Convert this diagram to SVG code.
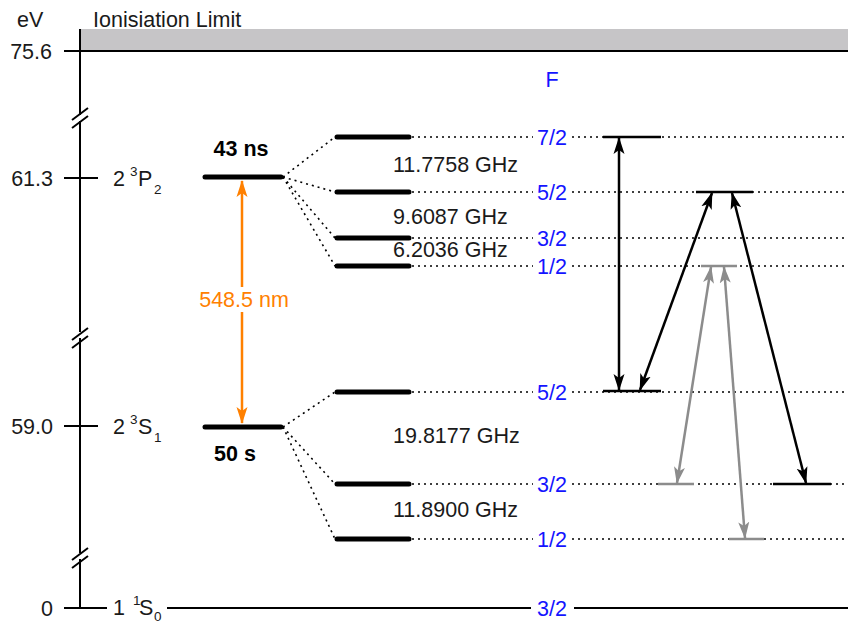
<svg xmlns="http://www.w3.org/2000/svg" width="848" height="624" viewBox="0 0 848 624">
<style>
text{font-family:"Liberation Sans",Arial,sans-serif;font-size:21.5px;fill:#1a1a1a}
.b{font-weight:bold;fill:#000}
.sm{font-size:13.5px}
.f{fill:#1414ff;text-anchor:middle}
.ax{stroke:#000;stroke-width:2;fill:none}
.lv{stroke:#000;stroke-width:5;stroke-linecap:round}
.dot{stroke:#000;stroke-width:1.6;stroke-dasharray:2 4;fill:none}
.seg{stroke:#000;stroke-width:2.5}
.gseg{stroke:#8c8c8c;stroke-width:2.5}
.ka{stroke:#000;stroke-width:2.5;marker-start:url(#ak);marker-end:url(#ak)}
.ga{stroke:#8c8c8c;stroke-width:2.5;marker-start:url(#ag);marker-end:url(#ag)}
.oa{stroke:#ff8000;stroke-width:2.5;marker-start:url(#ao);marker-end:url(#ao)}
</style>
<defs>
<marker id="ak" markerUnits="userSpaceOnUse" markerWidth="17" markerHeight="12" refX="16" refY="6" orient="auto-start-reverse"><path d="M17,6 L0,0.5 L4,6 L0,11.5 z" fill="#000"/></marker>
<marker id="ag" markerUnits="userSpaceOnUse" markerWidth="17" markerHeight="12" refX="16" refY="6" orient="auto-start-reverse"><path d="M17,6 L0,0.5 L4,6 L0,11.5 z" fill="#8c8c8c"/></marker>
<marker id="ao" markerUnits="userSpaceOnUse" markerWidth="17" markerHeight="12" refX="16" refY="6" orient="auto-start-reverse"><path d="M17,6 L0,0.5 L4,6 L0,11.5 z" fill="#ff8000"/></marker>
</defs>

<g id="axis">
<rect x="80" y="29" width="768" height="22" fill="#c6c5c7"/>
<path class="ax" d="M80,29 V115 M80,121 V332 M80,338 V553 M80,559 V608"/>
<path class="ax" d="M72,120 L88,108 M72,128 L88,116 M72,340 L88,328 M72,348 L88,336 M72,560 L88,548 M72,568 L88,556"/>
<line class="ax" x1="64" y1="51" x2="848" y2="51"/>
<line class="ax" x1="64" y1="178" x2="98" y2="178"/>
<line class="ax" x1="64" y1="426" x2="98" y2="426"/>
<line class="ax" x1="64" y1="608" x2="107" y2="608"/>
<text x="17" y="27">eV</text>
<text x="93" y="27">Ionisiation Limit</text>
<text x="52" y="59" text-anchor="end">75.6</text>
<text x="53" y="186" text-anchor="end">61.3</text>
<text x="53" y="434" text-anchor="end">59.0</text>
<text x="53" y="616" text-anchor="end">0</text>
</g>

<g id="ground">
<text x="113" y="615">1</text><text class="sm" x="133" y="605">1</text><text x="139" y="615">S</text><text class="sm" x="154" y="621">0</text>
<line class="ax" x1="167" y1="608" x2="531" y2="608"/>
<line class="ax" x1="574" y1="608" x2="848" y2="608"/>
<text class="f" x="552" y="616">3/2</text>
</g>

<g id="P2">
<text x="113" y="186">2</text><text class="sm" x="130" y="176">3</text><text x="138" y="186">P</text><text class="sm" x="154" y="194">2</text>
<line class="lv" x1="205" y1="177" x2="281" y2="177"/>
<text class="b" x="241" y="156" text-anchor="middle">43 ns</text>
</g>

<g id="S1">
<text x="113" y="434">2</text><text class="sm" x="130" y="424">3</text><text x="138" y="434">S</text><text class="sm" x="154" y="442">1</text>
<line class="lv" x1="205" y1="427" x2="281" y2="427"/>
<text class="b" x="235" y="461" text-anchor="middle">50 s</text>
</g>

<g id="hfP">
<line class="lv" x1="337" y1="137" x2="409" y2="137"/>
<line class="lv" x1="337" y1="192" x2="409" y2="192"/>
<line class="lv" x1="337" y1="238" x2="409" y2="238"/>
<line class="lv" x1="337" y1="266" x2="409" y2="266"/>
<text x="393" y="172">11.7758 GHz</text>
<text x="393" y="224">9.6087 GHz</text>
<text x="393" y="257">6.2036 GHz</text>
</g>

<g id="hfS">
<line class="lv" x1="337" y1="392" x2="409" y2="392"/>
<line class="lv" x1="337" y1="484" x2="409" y2="484"/>
<line class="lv" x1="337" y1="539" x2="409" y2="539"/>
<text x="393" y="443">19.8177 GHz</text>
<text x="393" y="517">11.8900 GHz</text>
</g>

<g id="Flabels">
<text class="f" x="552" y="87">F</text>
<text class="f" x="552" y="145">7/2</text>
<text class="f" x="552" y="200">5/2</text>
<text class="f" x="552" y="246">3/2</text>
<text class="f" x="552" y="274">1/2</text>
<text class="f" x="552" y="400">5/2</text>
<text class="f" x="552" y="492">3/2</text>
<text class="f" x="552" y="547">1/2</text>
</g>

<g id="connectors">
<path class="dot" d="M283,177 L335,137 M283,177 L335,192 M283,177 L335,238 M283,177 L335,266"/>
<path class="dot" d="M283,427 L335,392 M283,427 L335,484 M283,427 L335,539"/>
<path class="dot" d="M412,137 H533 M572,137 H848 M412,192 H533 M572,192 H848 M412,238 H533 M572,238 H848 M412,266 H533 M572,266 H848 M412,392 H533 M572,392 H848 M412,484 H533 M572,484 H848 M412,539 H533 M572,539 H848"/>
<line class="oa" x1="242" y1="181" x2="242" y2="423"/>
<rect x="192" y="287" width="102" height="25" fill="#fff"/>
<text x="244" y="307" text-anchor="middle" style="fill:#ff8000">548.5 nm</text>
</g>

<g id="transitions">
<line class="seg" x1="603" y1="137" x2="661" y2="137"/>
<line class="seg" x1="696" y1="192" x2="753" y2="192"/>
<line class="gseg" x1="701" y1="266" x2="737" y2="266"/>
<line class="seg" x1="603" y1="391" x2="661" y2="391"/>
<line class="gseg" x1="658" y1="484" x2="694" y2="484"/>
<line class="seg" x1="773" y1="484" x2="831" y2="484"/>
<line class="gseg" x1="729" y1="539" x2="764" y2="539"/>
<line class="ka" x1="619" y1="138" x2="619" y2="390"/>
<line class="ka" x1="640" y1="390" x2="712" y2="193"/>
<line class="ka" x1="732" y1="193" x2="806" y2="483"/>
<line class="ga" x1="711" y1="267" x2="677" y2="483"/>
<line class="ga" x1="724" y1="267" x2="745" y2="538"/>
</g>
</svg>
